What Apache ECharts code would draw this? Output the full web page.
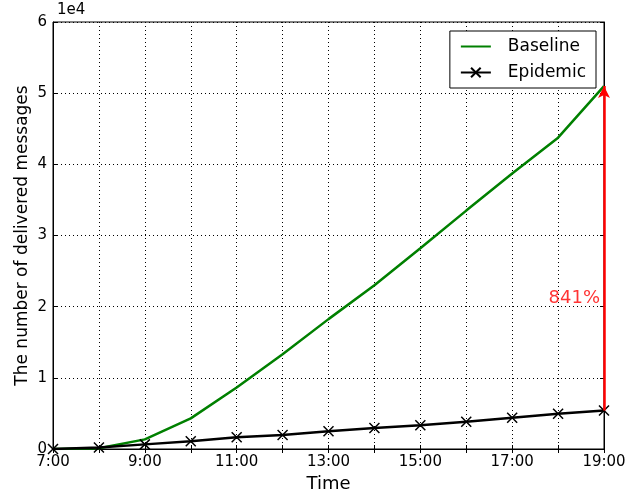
<!DOCTYPE html>
<html>
<head>
<meta charset="utf-8">
<script src="https://cdn.jsdelivr.net/npm/echarts@6/dist/echarts.min.js"></script>
<style>
  html, body { margin: 0; padding: 0; background: #fff; }
  #main { width: 627px; height: 495px; }
</style>
</head>
<body>
<div id="main"></div>
<script>
// delivered messages per hour
var hours = [7, 8, 9, 10, 11, 12, 13, 14, 15, 16, 17, 18, 19];
var baseline = [0, 100, 1350, 4300, 8650, 13300, 18250, 23000, 28200, 33500, 38700, 43750, 51000];
var epidemic = [0, 200, 650, 1100, 1650, 1980, 2500, 2950, 3330, 3830, 4400, 4950, 5420];
var yTicks = [0, 1, 2, 3, 4, 5, 6];
var gainLabel = '841%';

var font = 'DejaVu Sans';
var chart = echarts.init(document.getElementById('main'));

function pairs(vals) {
    return hours.map(function (h, i) { return [h, vals[i]]; });
}
var last = hours.length - 1;
var dots = { type: [1, 3], color: '#000', width: 1 };

var option = {
    animation: false,
    textStyle: { fontFamily: font, color: '#000' },
    grid: {
        left: 53, right: 23, top: 22, bottom: 46, outerBoundsMode: 'none',
        show: true, borderColor: '#000', borderWidth: 1
    },
    graphic: [{
        type: 'text', left: 57, top: 3,
        style: { text: '1e4', font: '15px "DejaVu Sans"', fill: '#000' }
    }],
    legend: {
        orient: 'vertical', right: 31, top: 31,
        data: [{ name: 'Baseline', itemStyle: { opacity: 0 } }, 'Epidemic'],
        borderColor: '#000', borderWidth: 1, borderRadius: 0,
        backgroundColor: '#fff',
        padding: [7, 10, 7, 10], itemGap: 9, itemWidth: 30, itemHeight: 12,
        textStyle: { fontFamily: font, fontSize: 17, color: '#000', padding: [0, 0, 0, 12] }
    },
    xAxis: [{
        type: 'value', min: 7, max: 19, interval: 1,
        name: 'Time', nameLocation: 'middle', nameGap: 26, nameMoveOverlap: false,
        nameTextStyle: { fontSize: 18, color: '#000' },
        axisLine: { lineStyle: { color: '#000' } },
        axisTick: { inside: true, length: 4, lineStyle: { color: '#000' } },
        axisLabel: {
            fontSize: 15, color: '#000', margin: 6,
            formatter: function (v) { return v % 2 === 1 ? v + ':00' : ''; }
        },
        splitLine: { show: true, lineStyle: dots }
    }, {
        type: 'value', min: 7, max: 19, interval: 1, position: 'top',
        axisLine: { lineStyle: { color: '#000' } },
        axisTick: { inside: true, length: 4, lineStyle: { color: '#000' } },
        axisLabel: { show: false }, splitLine: { show: false }
    }],
    yAxis: [{
        type: 'value', min: 0, max: 60000, interval: 10000,
        name: 'The number of delivered messages', nameLocation: 'middle', nameGap: 22,
        nameMoveOverlap: false,
        nameTextStyle: { fontSize: 17, color: '#000' },
        axisLine: { show: true, lineStyle: { color: '#000' } },
        axisTick: { show: true, inside: true, length: 4, lineStyle: { color: '#000' } },
        axisLabel: {
            fontSize: 15, color: '#000', margin: 6,
            formatter: function (v) { return String(yTicks[Math.round(v / 10000)]); }
        },
        splitLine: { show: true, lineStyle: dots }
    }, {
        type: 'value', min: 0, max: 60000, interval: 10000, position: 'right',
        axisLine: { show: true, lineStyle: { color: '#000' } },
        axisTick: { show: true, inside: true, length: 4, lineStyle: { color: '#000' } },
        axisLabel: { show: false }, splitLine: { show: false }
    }],
    series: [
        {
            name: 'Baseline', type: 'line', data: pairs(baseline),
            showSymbol: false, symbol: 'none',
            lineStyle: { color: '#008000', width: 2.5 },
            itemStyle: { color: '#008000' }
        },
        {
            name: 'Epidemic', type: 'line', data: pairs(epidemic),
            symbol: 'path://M0,0 L10,10 M10,0 L0,10', symbolSize: 10,
            lineStyle: { color: '#000', width: 2.5 },
            itemStyle: { color: 'none', borderColor: '#000', borderWidth: 1.5 },
            markLine: {
                silent: true, symbol: ['none', 'arrow'], symbolSize: [9, 12],
                label: { show: false },
                lineStyle: { color: '#ff0000', width: 2.5, type: 'solid' },
                itemStyle: { color: '#ff0000' },
                data: [[{ coord: [hours[last], epidemic[last]] }, { coord: [hours[last], baseline[last]] }]]
            }
        },
        {
            name: 'gain', type: 'scatter', symbolSize: 0,
            data: [[hours[last], (baseline[last] + epidemic[last]) / 2 - 7000]],
            label: {
                show: true, position: 'left', distance: 4,
                formatter: gainLabel, fontSize: 18, color: '#ff0000', fontFamily: font
            }
        }
    ]
};
chart.setOption(option);
</script>
</body>
</html>
